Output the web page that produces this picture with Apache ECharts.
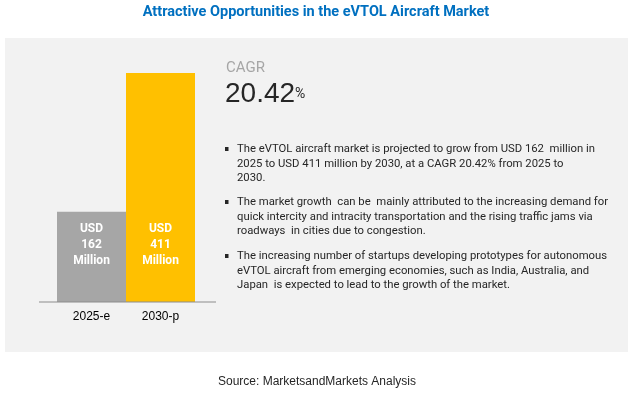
<!DOCTYPE html>
<html>
<head>
<meta charset="utf-8">
<script src="https://cdn.jsdelivr.net/npm/echarts@6/dist/echarts.min.js"></script>
<style>
  html, body { margin: 0; padding: 0; background: #ffffff; }
  #container { width: 632px; height: 397px; }
</style>
</head>
<body>
<div id="container"></div>
<script>
var years = ['2025-e', '2030-p'];
var marketSize = [162, 411];
var barColors = ['#a6a6a6', '#ffc000'];
var cagrValue = '20.42';
var bullets = [
    ['The eVTOL aircraft market is projected to grow from USD 162  million in',
     '2025 to USD 411 million by 2030, at a CAGR 20.42% from 2025 to',
     '2030.'],
    ['The market growth  can be  mainly attributed to the increasing demand for',
     'quick intercity and intracity transportation and the rising traffic jams via',
     'roadways  in cities due to congestion.'],
    ['The increasing number of startups developing prototypes for autonomous',
     'eVTOL aircraft from emerging economies, such as India, Australia, and',
     'Japan  is expected to lead to the growth of the market.']
];
var bulletTops = [142, 195, 249];

var dom = document.getElementById('container');
var myChart = echarts.init(dom, null, { renderer: 'canvas' });

function bulletGraphics() {
    var els = [];
    for (var i = 0; i < bullets.length; i++) {
        els.push({
            type: 'rect',
            shape: { x: 225, y: bulletTops[i] + 5, width: 3.5, height: 4 },
            style: { fill: '#262626' }
        });
        els.push({
            type: 'text',
            x: 237,
            y: bulletTops[i],
            style: {
                text: bullets[i].join('\n'),
                font: '11.3px Roboto',
                fill: '#262626',
                lineHeight: 14.5,
                verticalAlign: 'top'
            }
        });
    }
    return els;
}

var option = {
    animation: false,
    title: {
        text: 'Attractive Opportunities in the eVTOL Aircraft Market',
        left: 'center',
        top: 0,
        textStyle: {
            fontFamily: 'Roboto',
            fontWeight: 'bold',
            fontSize: 14.5,
            color: '#0070c0'
        }
    },
    grid: { left: 57, width: 138, top: 73, bottom: 95 },
    xAxis: {
        type: 'category',
        data: years,
        axisLine: { show: false },
        axisTick: { show: false },
        axisLabel: {
            color: '#000000',
            fontSize: 12,
            fontFamily: 'Liberation Sans',
            margin: 9
        }
    },
    yAxis: {
        type: 'value',
        min: 0,
        max: 411,
        show: false
    },
    series: [{
        type: 'bar',
        barCategoryGap: '0%',
        z: 3,
        data: marketSize.map(function (v, i) {
            return { value: v, itemStyle: { color: barColors[i] } };
        }),
        label: {
            show: true,
            position: 'insideBottom',
            distance: 33,
            formatter: function (p) { return 'USD\n' + p.value + '\nMillion'; },
            color: '#ffffff',
            fontFamily: 'Roboto',
            fontWeight: 'bold',
            fontSize: 12,
            lineHeight: 16
        }
    }],
    graphic: [
        {
            type: 'rect',
            z: -10,
            shape: { x: 5, y: 38, width: 623, height: 314 },
            style: { fill: '#f2f2f2' }
        },
        {
            type: 'line',
            z: 5,
            shape: { x1: 39, y1: 302, x2: 216, y2: 302 },
            style: { stroke: '#8c8c8c', lineWidth: 1 }
        },
        {
            type: 'text',
            x: 226,
            y: 68,
            style: {
                text: 'CAGR',
                font: '15px Roboto',
                fill: '#a6a6a6',
                verticalAlign: 'middle'
            }
        },
        {
            type: 'text',
            x: 225,
            y: 108,
            style: {
                text: '{v|' + cagrValue + '}{p|%}',
                verticalAlign: 'bottom',
                rich: {
                    v: { font: '28px "Liberation Sans"', fill: '#262626' },
                    p: { font: '14px Roboto', fill: '#262626' }
                }
            }
        },
        {
            type: 'text',
            x: 317,
            y: 382,
            style: {
                text: 'Source: MarketsandMarkets Analysis',
                font: '12px "Liberation Sans"',
                fill: '#262626',
                align: 'center',
                verticalAlign: 'middle'
            }
        }
    ].concat(bulletGraphics())
};

myChart.setOption(option);
window.addEventListener('resize', myChart.resize);
</script>
</body>
</html>
